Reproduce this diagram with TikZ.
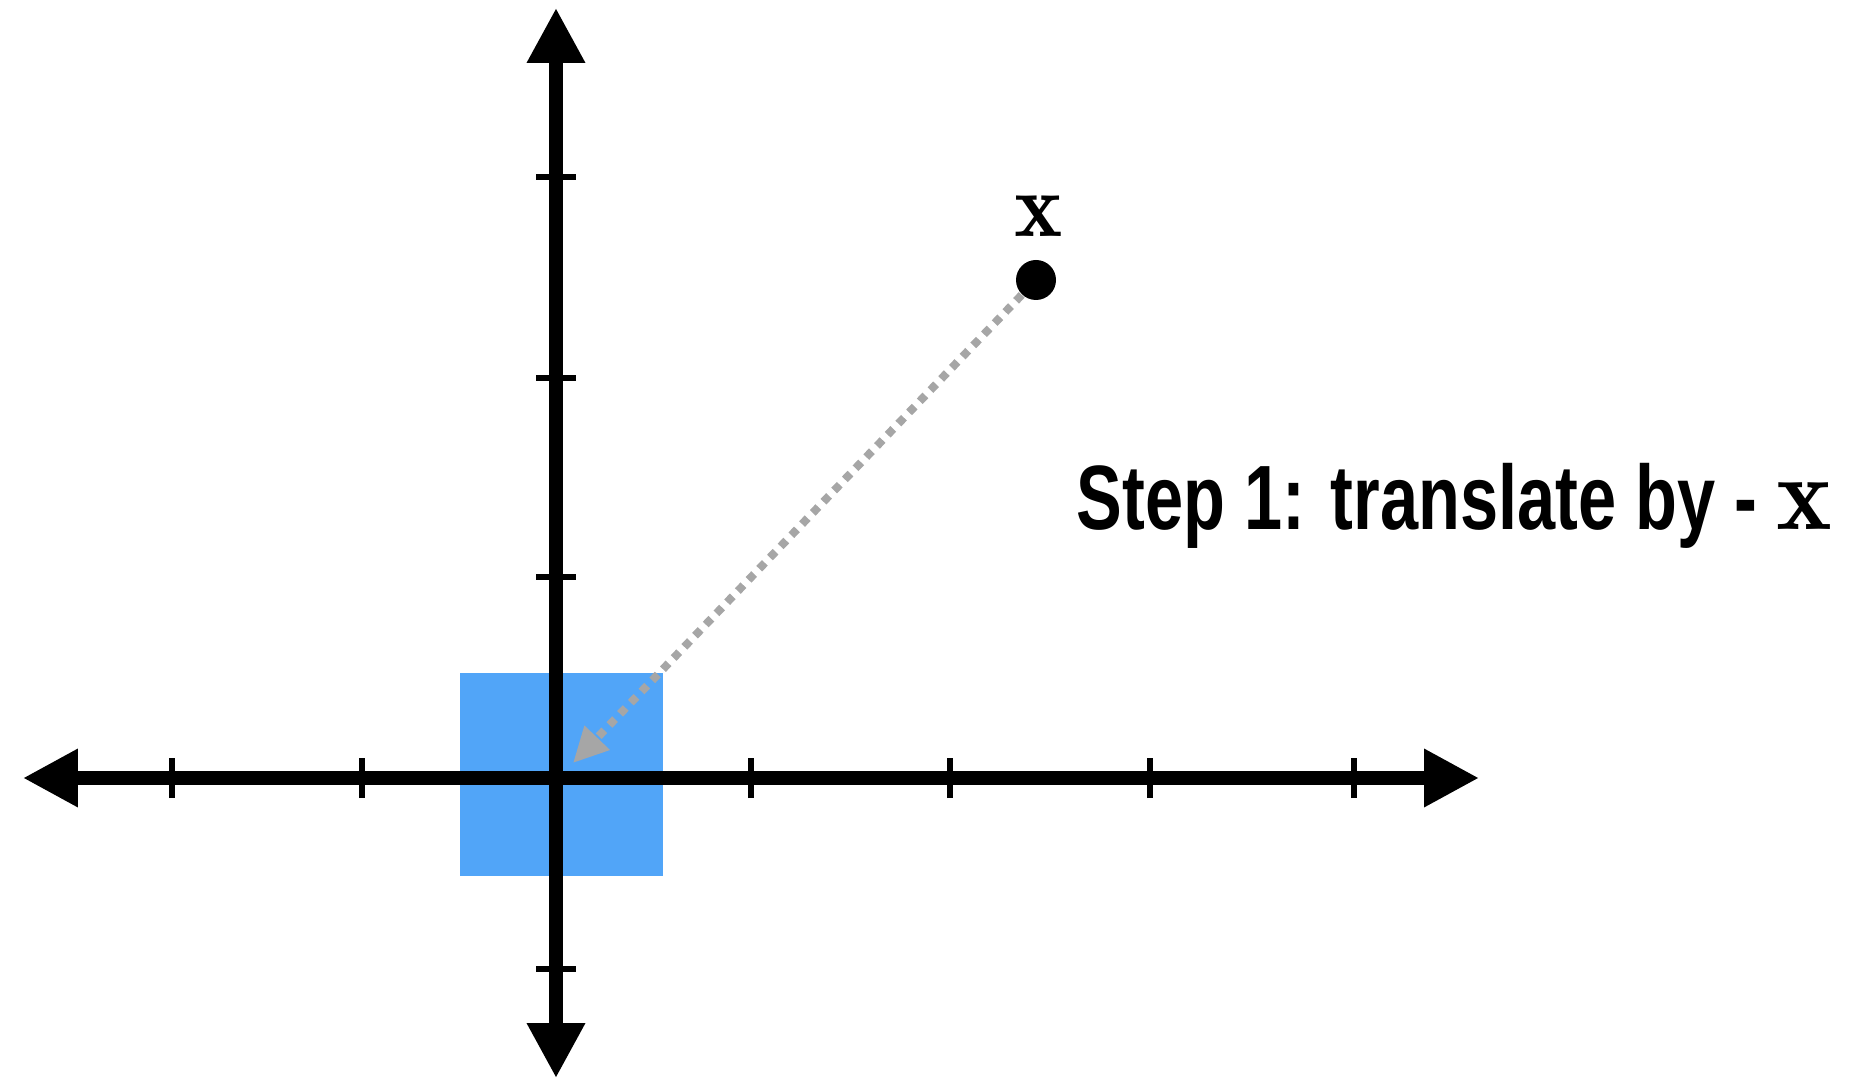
\documentclass[tikz,border=0pt]{standalone}
\usepackage{fontspec}
\newfontfamily\stepfont[FakeStretch=0.75]{Liberation Sans}
\usetikzlibrary{arrows.meta}

\definecolor{boxblue}{RGB}{81,165,248}
\definecolor{pathgray}{RGB}{166,166,166}

\tikzset{
  axis/.style={line width=3.7pt, {Triangle[length=5.5mm,width=5.5mm]}-{Triangle[length=5.5mm,width=5.5mm]}},
  axistick/.style={line width=1.7pt},
  shiftpath/.style={pathgray, line width=2.3pt, dash pattern=on 2.3pt off 2.1pt,
    -{Triangle[length=3.5mm,width=3.3mm]}},
}

\begin{document}
\begin{tikzpicture}[x=2cm,y=2cm]
        \useasboundingbox (-2.78,-1.51) rectangle (6.59,3.89);

        \fill[boxblue] (-0.48,-0.49) rectangle (0.535,0.525);

        \draw[axis] (-2.665,0) -- (4.615,0);
        \draw[axis] (0,-1.5) -- (0,3.85);

        \foreach \x in {-1.92,-0.97,0.975,1.97,2.97,3.99}
          \draw[axistick] (\x,-0.1) -- (\x,0.1);
        \foreach \y in {-0.955,1.005,2.0,3.005}
          \draw[axistick] (-0.1,\y) -- (0.1,\y);

        \node[circle, fill, inner sep=0pt, minimum size=4mm] (pt) at (2.4,2.49) {};
        \node[font=\fontsize{26}{30}\selectfont] (ptlabel) at (2.415,2.81) {$\mathbf{x}$};
        \coordinate (origintip) at (0.085,0.075);
        \draw[shiftpath] (pt) -- (origintip);

        \node[anchor=base west, inner sep=0pt, font=\stepfont\bfseries\fontsize{26}{30}\selectfont]
          (steplabel) at (2.6,1.24) {Step 1: translate by - {\fontsize{30}{32}\selectfont$\mathbf{x}$}};
\end{tikzpicture}
\end{document}
